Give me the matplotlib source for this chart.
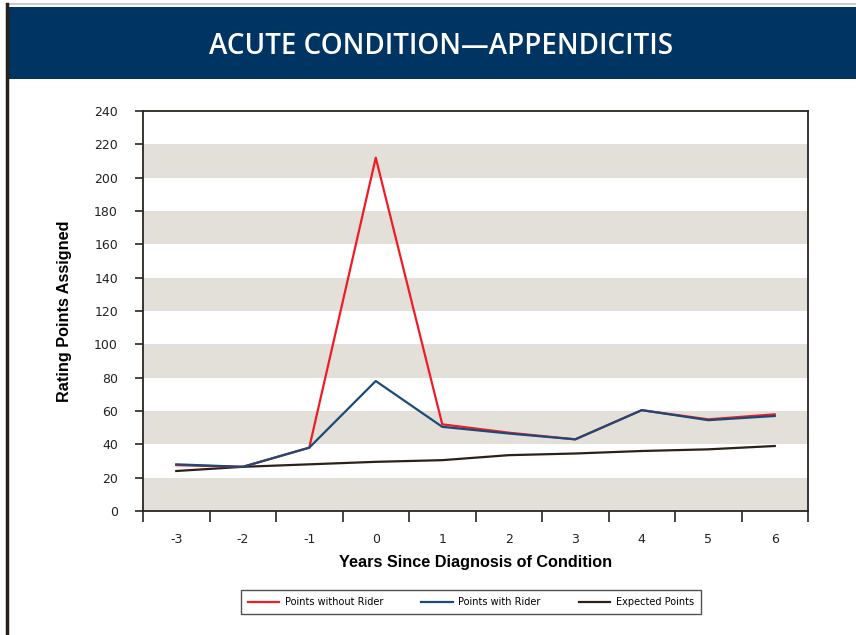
import matplotlib
matplotlib.use("Agg")
import matplotlib.pyplot as plt
from matplotlib.patches import Rectangle
from matplotlib.lines import Line2D

years = ["-3", "-2", "-1", "0", "1", "2", "3", "4", "5", "6"]
without_rider = [27.5, 26.5, 38, 212, 52, 47, 43, 60.5, 55, 58]
with_rider = [28, 26.5, 38, 78, 50.5, 46.5, 43, 60.5, 54.5, 57]
expected = [24, 26.5, 28, 29.5, 30.5, 33.5, 34.5, 36, 37, 39]
y_ticks = list(range(0, 241, 20))
band_ranges = [(0, 20), (40, 60), (80, 100), (120, 140), (160, 180), (200, 220)]

W, H = 856, 635
fig = plt.figure(figsize=(W / 100, H / 100), dpi=100)
fig.patch.set_facecolor("white")

# header band and frame
fig.add_artist(Rectangle((7 / W, 1 - 79 / H), 1 - 7 / W, 72 / H, transform=fig.transFigure,
                         facecolor="#003462", edgecolor="none", zorder=0))
fig.add_artist(Line2D([7 / W, 1], [1 - 4 / H, 1 - 4 / H], transform=fig.transFigure,
                      color="#c8ccd2", lw=1.5))
fig.add_artist(Line2D([7 / W, 7 / W], [0, 1 - 4 / H], transform=fig.transFigure,
                      color="#2a2018", lw=2.5))
fig.text(441 / W, 1 - 47 / H, "ACUTE CONDITION\u2014APPENDICITIS", color="white",
         fontsize=20, fontweight=600, family=["Open Sans", "DejaVu Sans"],
         ha="center", va="center")

ax = fig.add_axes([143 / W, 1 - 511 / H, (808 - 143) / W, (511 - 111) / H])
x = list(range(len(years)))
for lo, hi in band_ranges:
    ax.axhspan(lo, hi, color="#e3e0da", lw=0, zorder=0)

ax.plot(x, expected, color="#2b2118", lw=1.6, zorder=3, label="Expected Points")
ax.plot(x, without_rider, color="#ee1c25", lw=1.6, zorder=4, label="Points without Rider")
ax.plot(x, with_rider, color="#1c4a78", lw=1.6, zorder=5, label="Points with Rider")

ax.set_xlim(-0.5, len(years) - 0.5)
ax.set_ylim(0, 240)
ax.set_yticks(y_ticks)
ax.set_yticklabels([str(v) for v in y_ticks], fontsize=9, family="DejaVu Sans", color="#222")
ax.set_xticks([i - 0.5 for i in range(len(years) + 1)])
ax.set_xticklabels([])
ax.set_xticks(x, minor=True)
ax.set_xticklabels(years, minor=True, fontsize=9, family="DejaVu Sans", color="#222")
ax.tick_params(axis="x", which="major", length=8, width=1.2, color="#2a2520", direction="out")
ax.tick_params(axis="x", which="minor", length=0, pad=16)
ax.tick_params(axis="y", length=6, width=1.2, color="#2a2520", direction="out", pad=12)
for s in ax.spines.values():
    s.set_color("#2a2520")
    s.set_linewidth(1.3)

ax.set_xlabel("Years Since Diagnosis of Condition", fontsize=11.7, fontweight="bold",
              family="Liberation Sans", labelpad=6)
ax.set_ylabel("Rating Points Assigned", fontsize=11.7, fontweight="bold",
              family="Liberation Sans", labelpad=16)

handles, labels = ax.get_legend_handles_labels()
order = [1, 2, 0]
leg = fig.legend([handles[i] for i in order], [labels[i] for i in order],
                 loc="center", bbox_to_anchor=(471 / W, 1 - 602 / H), ncol=3,
                 prop={"family": "DejaVu Sans", "size": 7}, frameon=True,
                 fancybox=False, edgecolor="#2a2520", handlelength=3.2,
                 columnspacing=3.9, borderpad=0.7, handletextpad=0.6)
leg.get_frame().set_linewidth(1.0)

fig.savefig("out.png", dpi=100)
